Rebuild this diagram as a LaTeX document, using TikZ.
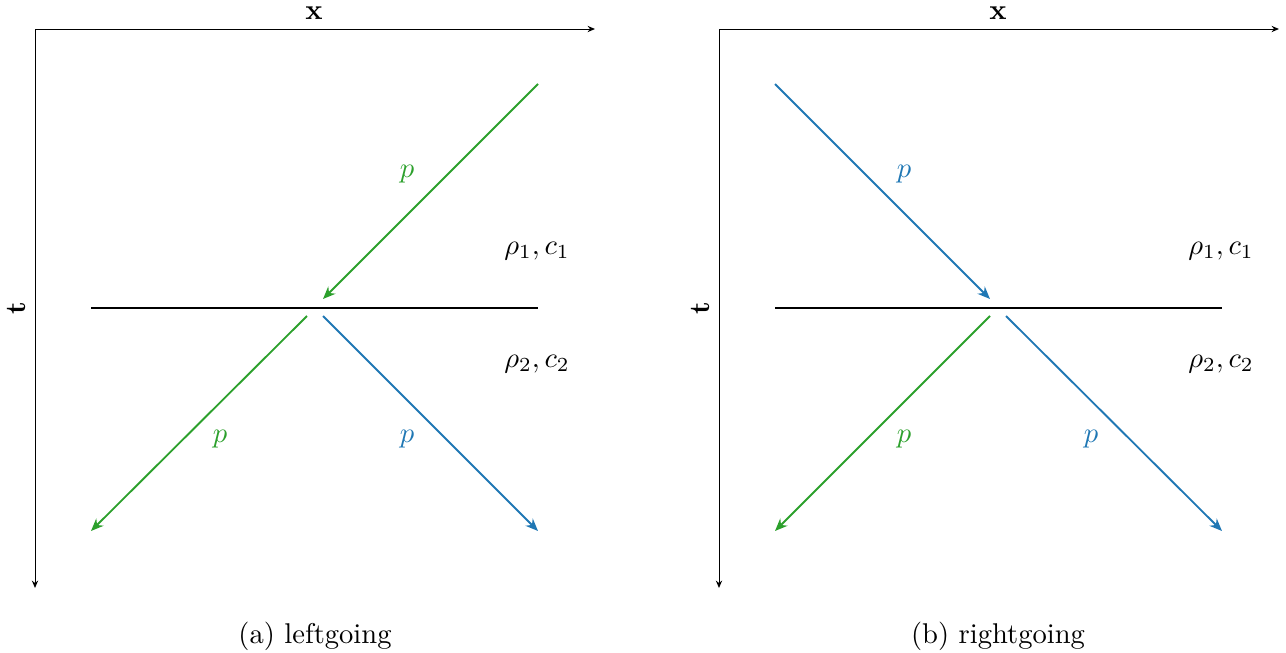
\documentclass[tikz,border=0pt]{standalone}
\usetikzlibrary{arrows.meta}
\definecolor{mgreen}{HTML}{2CA02C}
\definecolor{mblue}{HTML}{1F77B4}
\begin{document}
\begin{tikzpicture}[x=0.35pt,y=-0.35pt,
  axis/.style={line width=0.35pt,-{Stealth[length=2.6pt,width=2.2pt]}},
  iface/.style={line width=0.8pt},
  ray/.style={line width=0.65pt,-{Stealth[length=4.4pt,width=3.6pt]}},
  lab/.style={inner sep=0pt}]
\useasboundingbox (0,0) rectangle (1286,653);
\foreach \ox/\pn in {0/a,684/b}{
  \begin{scope}[xshift=\ox*0.35pt]
    \coordinate (O\pn) at (35,29);
    \coordinate (X\pn) at (595,29);
    \coordinate (T\pn) at (35,588);
    \draw[axis] (O\pn) -- (X\pn);
    \draw[axis] (O\pn) -- (T\pn);
    \node[lab] (xl\pn) at (314,13) {$\mathbf{x}$};
    \node[lab,rotate=90] (tl\pn) at (16,308) {$\mathbf{t}$};
    \coordinate (IL\pn) at (91,308);
    \coordinate (IR\pn) at (538,308);
    \draw[iface] (IL\pn) -- (IR\pn);
    \node[lab] (r1\pn) at (537,251) {$\rho_1, c_1$};
    \node[lab] (r2\pn) at (537,364) {$\rho_2, c_2$};
  \end{scope}
}
% panel (a)
\coordinate (a1s) at (538,84);
\coordinate (a1e) at (323,299);
\coordinate (a2s) at (307,316);
\coordinate (a2e) at (91,531);
\coordinate (a3s) at (323,316);
\coordinate (a3e) at (538,531);
\draw[ray,mgreen] (a1s) -- (a1e);
\draw[ray,mgreen] (a2s) -- (a2e);
\draw[ray,mblue] (a3s) -- (a3e);
\node[lab,text=mgreen] (pa1) at (407,174) {$p$};
\node[lab,text=mgreen] (pa2) at (220,439) {$p$};
\node[lab,text=mblue] (pa3) at (407,439) {$p$};
\node (capa) at (315,636) {(a) leftgoing};
% panel (b)
\coordinate (b1s) at (775,84);
\coordinate (b1e) at (990,299);
\coordinate (b2s) at (990,316);
\coordinate (b2e) at (775,531);
\coordinate (b3s) at (1006,316);
\coordinate (b3e) at (1222,531);
\draw[ray,mblue] (b1s) -- (b1e);
\draw[ray,mgreen] (b2s) -- (b2e);
\draw[ray,mblue] (b3s) -- (b3e);
\node[lab,text=mblue] (pb1) at (904,174) {$p$};
\node[lab,text=mgreen] (pb2) at (904,439) {$p$};
\node[lab,text=mblue] (pb3) at (1091,439) {$p$};
\node (capb) at (998,636) {(b) rightgoing};
\end{tikzpicture}
\end{document}
